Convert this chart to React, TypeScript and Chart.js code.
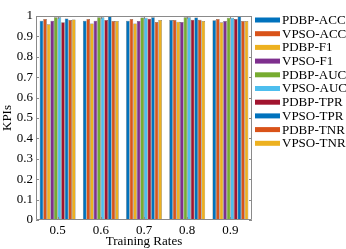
import React, { useEffect, useRef } from "react";
import { Chart, registerables } from "chart.js";

Chart.register(...registerables);

const categories = ["0.5", "0.6", "0.7", "0.8", "0.9"];
const seriesNames = [
  "PDBP-ACC", "VPSO-ACC", "PDBP-F1", "VPSO-F1", "PDBP-AUC",
  "VPSO-AUC", "PDBP-TPR", "VPSO-TPR", "PDBP-TNR", "VPSO-TNR",
];
const pdbpAcc = [0.977, 0.977, 0.977, 0.98, 0.979];
const vpsoAcc = [0.985, 0.985, 0.985, 0.98, 0.985];
const pdbpF1 = [0.96, 0.963, 0.963, 0.972, 0.969];
const vpsoF1 = [0.977, 0.977, 0.976, 0.97, 0.975];
const pdbpAuc = [0.994, 0.994, 0.993, 0.994, 0.992];
const vpsoAuc = [0.994, 0.994, 0.992, 0.994, 0.991];
const pdbpTpr = [0.969, 0.98, 0.987, 0.982, 0.985];
const vpsoTpr = [0.988, 1.0, 0.994, 0.993, 0.999];
const pdbpTnr = [0.98, 0.976, 0.97, 0.982, 0.976];
const vpsoTnr = [0.983, 0.976, 0.98, 0.976, 0.975];
const yTicks = [0, 0.1, 0.2, 0.3, 0.4, 0.5, 0.6, 0.7, 0.8, 0.9, 1];

const seriesValues = [pdbpAcc, vpsoAcc, pdbpF1, vpsoF1, pdbpAuc, vpsoAuc, pdbpTpr, vpsoTpr, pdbpTnr, vpsoTnr];
const colors = [
  "#0072BD", "#D95319", "#EDB120", "#7E2F8E", "#77AC30",
  "#4DBEEE", "#A2142F", "#0072BD", "#D95319", "#EDB120",
];

const FONT = "'Liberation Serif', 'Times New Roman', serif";

const boxPlugin = {
  id: "matlabBox",
  afterDraw(chart: any) {
    const { ctx, chartArea } = chart;
    const { left, right, top, bottom } = chartArea;
    ctx.save();
    ctx.strokeStyle = "#8a8a8a";
    ctx.lineWidth = 1;
    ctx.beginPath();
    ctx.rect(left + 0.5, top + 0.5, right - left - 1, bottom - top - 1);
    ctx.stroke();
    const ys = chart.scales.y;
    const xs = chart.scales.x;
    ctx.beginPath();
    yTicks.forEach((v) => {
      const py = Math.round(ys.getPixelForValue(v)) + 0.5;
      ctx.moveTo(left, py);
      ctx.lineTo(left + 3, py);
      ctx.moveTo(right, py);
      ctx.lineTo(right - 3, py);
    });
    categories.forEach((_, i) => {
      const px = Math.round(xs.getPixelForValue(i)) + 0.5;
      ctx.moveTo(px, bottom);
      ctx.lineTo(px, bottom - 3);
      ctx.moveTo(px, top);
      ctx.lineTo(px, top + 3);
    });
    ctx.stroke();
    ctx.restore();

    ctx.save();
    ctx.font = `13px ${FONT}`;
    ctx.textBaseline = "middle";
    ctx.textAlign = "left";
    const lx = right + 3;
    const ly0 = 20;
    const step = 13.7;
    chart.data.datasets.forEach((ds: any, i: number) => {
      const cy = ly0 + i * step;
      ctx.fillStyle = ds.backgroundColor;
      ctx.fillRect(lx, cy - 2.5, 25, 5);
      ctx.fillStyle = "#000";
      ctx.fillText(ds.label, lx + 27, cy + 0.5);
    });
    ctx.restore();
  },
};

export default function App() {
  const ref = useRef<HTMLCanvasElement>(null);
  useEffect(() => {
    document.body.style.margin = "0";
    const chart = new Chart(ref.current!, {
      type: "bar",
      data: {
        labels: categories,
        datasets: seriesNames.map((name, i) => ({
          label: name,
          data: seriesValues[i],
          backgroundColor: colors[i],
          borderColor: "rgba(40,40,40,0.8)",
          borderWidth: 0.5,
          barPercentage: 1,
          categoryPercentage: 0.83,
        })),
      },
      options: {
        animation: false,
        responsive: false,
        devicePixelRatio: 1,
        layout: { padding: { top: 16, right: 94, left: 0, bottom: 0 } },
        plugins: { legend: { display: false }, tooltip: { enabled: false } },
        scales: {
          x: {
            grid: { display: false, drawTicks: false, tickLength: 0 },
            border: { display: false },
            ticks: { color: "#000", font: { family: FONT, size: 13 }, padding: 3, maxRotation: 0 },
            title: {
              display: true,
              text: "Training Rates",
              color: "#000",
              font: { family: FONT, size: 13 },
              padding: { top: 0, bottom: 0 },
            },
            afterFit: (s: any) => { s.height = 29; },
          },
          y: {
            min: 0,
            max: 1,
            grid: { display: false, drawTicks: false, tickLength: 0 },
            border: { display: false },
            afterBuildTicks: (s: any) => { s.ticks = yTicks.map((v) => ({ value: v })); },
            ticks: {
              color: "#000",
              font: { family: FONT, size: 13 },
              padding: 3,
              callback: (v: any) => String(Number(v)),
            },
            title: {
              display: true,
              text: "KPIs",
              color: "#000",
              font: { family: FONT, size: 13 },
              padding: { top: 0, bottom: 0 },
            },
            afterFit: (s: any) => { s.width = 36; },
          },
        },
      },
      plugins: [boxPlugin],
    });
    return () => chart.destroy();
  }, []);
  return (
    <div style={{ width: 346, height: 249, background: "#fff" }}>
      <canvas ref={ref} width={346} height={249} />
    </div>
  );
}
